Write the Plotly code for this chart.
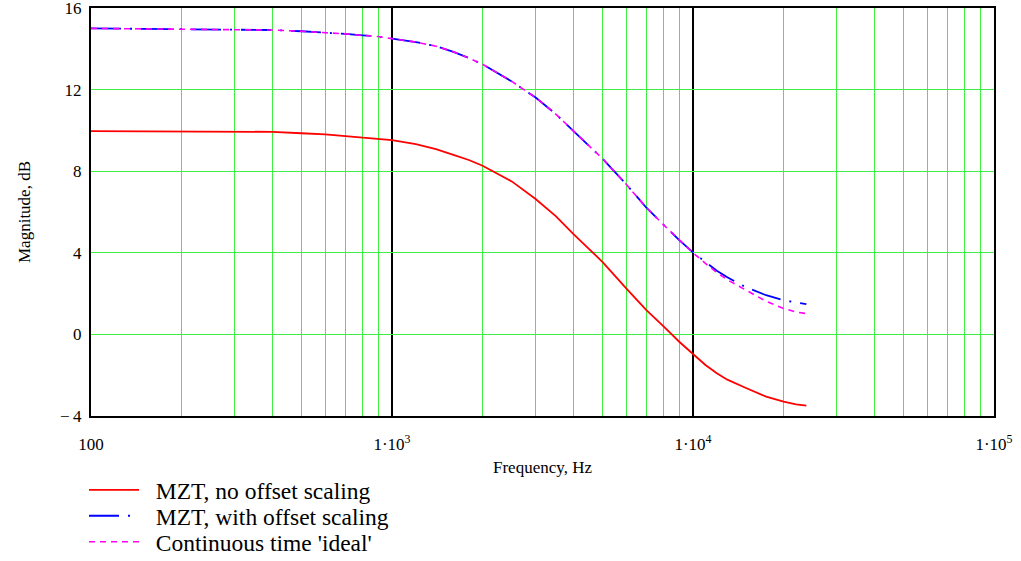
import plotly.graph_objects as go

# Frequency points (Hz)
freq = [100, 200, 300, 400, 500, 600, 700, 800, 900, 1000, 1200, 1400, 1600, 1800,
        2000, 2500, 3000, 3500, 4000, 4500, 5000, 6000, 7000, 8000, 9000, 10000,
        11000, 12000, 13000, 15000, 17500, 20000, 22000, 23800]

# Magnitude (dB)
mzt_no_offset = [9.96, 9.96, 9.95, 9.93, 9.86, 9.81, 9.72, 9.65, 9.59, 9.52, 9.33, 9.08,
                 8.80, 8.55, 8.27, 7.50, 6.64, 5.80, 4.93, 4.22, 3.56, 2.26, 1.19, 0.38,
                 -0.36, -0.96, -1.50, -1.90, -2.22, -2.63, -3.05, -3.30, -3.43, -3.49]
mzt_offset = [15.00, 14.97, 14.93, 14.92, 14.86, 14.80, 14.73, 14.66, 14.60, 14.50, 14.33,
              14.13, 13.85, 13.55, 13.24, 12.40, 11.61, 10.80, 9.98, 9.28, 8.62, 7.36,
              6.21, 5.36, 4.62, 4.02, 3.55, 3.12, 2.80, 2.31, 1.92, 1.68, 1.56, 1.48]
ideal = [15.00, 14.97, 14.93, 14.92, 14.86, 14.80, 14.73, 14.66, 14.60, 14.50, 14.33,
         14.13, 13.85, 13.55, 13.24, 12.40, 11.61, 10.80, 9.98, 9.28, 8.62, 7.36,
         6.21, 5.36, 4.62, 4.00, 3.48, 3.03, 2.68, 2.15, 1.62, 1.27, 1.10, 1.02]

series_names = ["MZT, no offset scaling", "MZT, with offset scaling", "Continuous time 'ideal'"]
x_title = "Frequency, Hz"
y_title = "Magnitude, dB"

x_major = [100, 1000, 10000, 100000]
x_major_text = ["100", "1\u00b710<sup>3</sup>", "1\u00b710<sup>4</sup>", "1\u00b710<sup>5</sup>"]
x_minor = [m * d for d in [100, 1000, 10000] for m in range(2, 10)]
y_ticks = [-4, 0, 4, 8, 12, 16]
y_text = ["\u2212\u20094", "0", "4", "8", "12", "16"]

FONT = "Liberation Serif"
GREEN = "#40f040"
LEG_FONT = dict(size=23.5, family=FONT, color="black")

fig = go.Figure()
fig.add_trace(go.Scatter(x=freq, y=mzt_no_offset, mode="lines", name="\u2002" + series_names[0],
                         legend="legend",
                         line=dict(color="#ff0000", width=1.8)))
fig.add_trace(go.Scatter(x=freq, y=mzt_offset, mode="lines", name="\u2002" + series_names[1],
                         legend="legend2",
                         line=dict(color="#0000ff", width=1.8, dash="30px,9px,2px,9px")))
fig.add_trace(go.Scatter(x=freq, y=ideal, mode="lines", name="\u2002" + series_names[2],
                         legend="legend3",
                         line=dict(color="#ff00ff", width=1.6, dash="6px,5px")))

def leg(ypx):
    return dict(xref="container", yref="container", x=84 / 1021, y=1 - ypx / 561,
                xanchor="left", yanchor="middle", font=LEG_FONT,
                bgcolor="rgba(0,0,0,0)", itemwidth=50)

fig.update_layout(
    width=1021, height=561,
    margin=dict(l=91, r=27, t=8, b=145, autoexpand=False),
    paper_bgcolor="white", plot_bgcolor="white",
    font=dict(family=FONT, color="black", size=17),
    showlegend=True,
    legend=leg(490), legend2=leg(516), legend3=leg(542),
    annotations=[dict(text=y_title, xref="paper", yref="paper", x=-67 / 903, y=0.5,
                      xanchor="center", yanchor="middle", textangle=-90, showarrow=False,
                      font=dict(size=17, family=FONT, color="black"))],
)
fig.update_xaxes(
    type="log", range=[2, 5],
    tickmode="array", tickvals=x_major, ticktext=x_major_text,
    showgrid=True, gridcolor="black", gridwidth=2,
    minor=dict(tickvals=x_minor, showgrid=True, gridcolor=GREEN, gridwidth=1, ticks=""),
    showline=True, linecolor="black", linewidth=2, mirror=True,
    ticks="", ticklabelstandoff=12, zeroline=False, ticklabeloverflow="allow",
    tickfont=dict(size=17, family=FONT),
    title=dict(text=x_title, font=dict(size=17, family=FONT), standoff=8),
)
fig.update_yaxes(
    range=[-4, 16], tickmode="array", tickvals=y_ticks, ticktext=y_text,
    showgrid=True, gridcolor=GREEN, gridwidth=1,
    showline=True, linecolor="black", linewidth=2, mirror=True,
    ticks="", ticklabelstandoff=4, zeroline=False, ticklabeloverflow="allow",
    tickfont=dict(size=17, family=FONT),
)

fig.write_html("out.html")
